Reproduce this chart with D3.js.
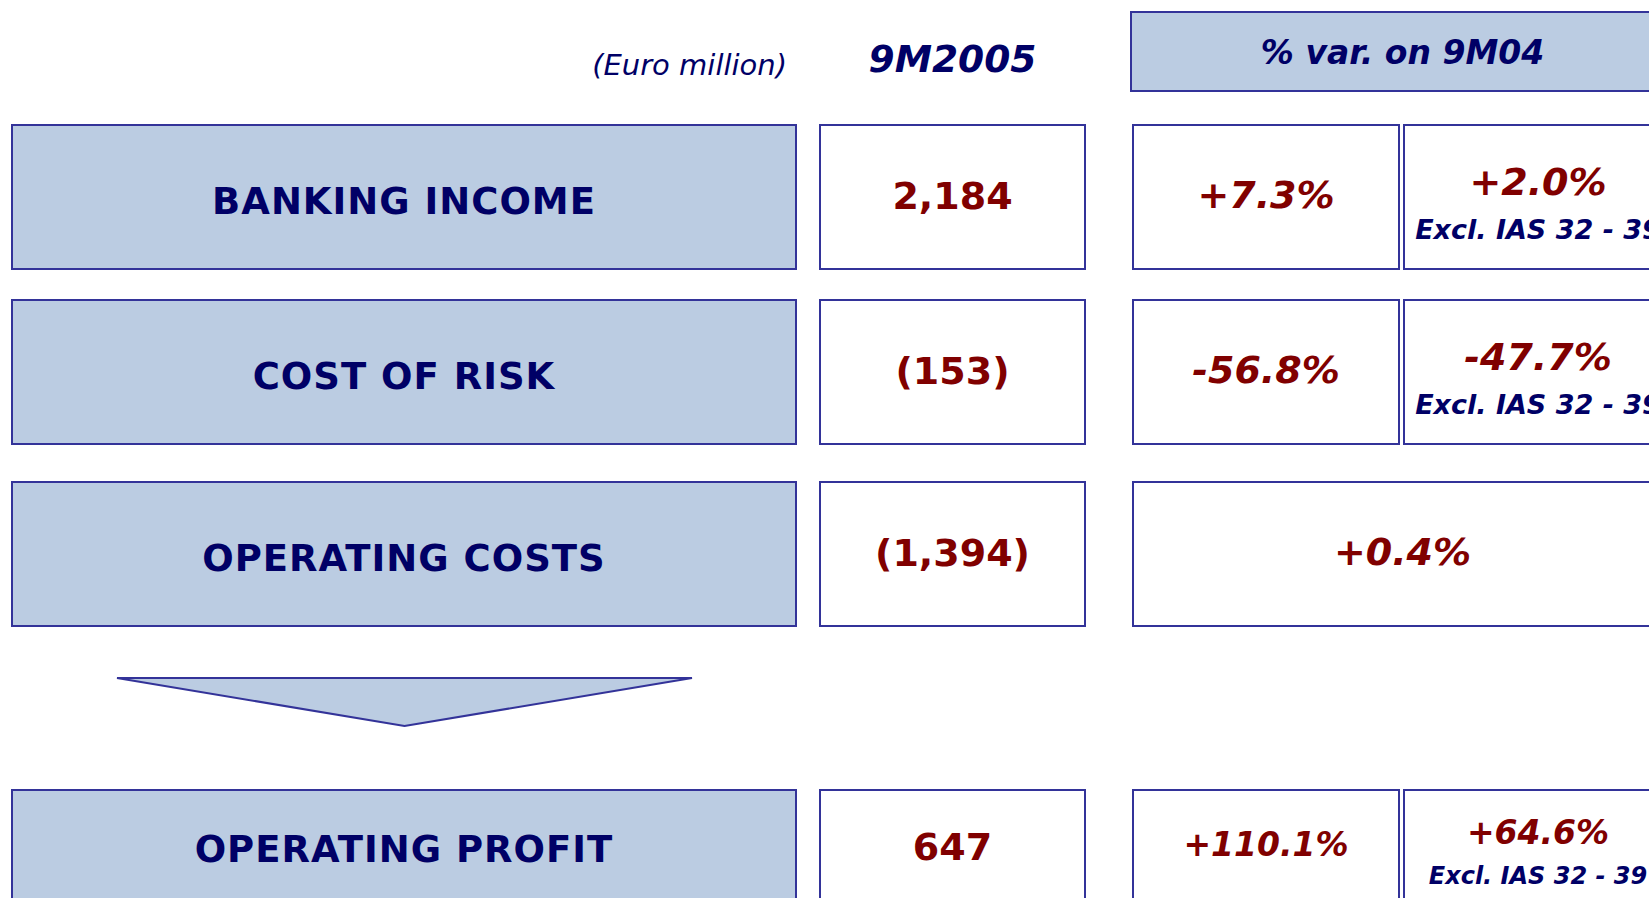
<!DOCTYPE html>
<html>
<head>
<meta charset="utf-8">
<script src="https://cdn.jsdelivr.net/npm/d3@7"></script>
<style>
body { margin: 0; background: #fff; overflow: hidden; }
text { font-family: "DejaVu Sans", Verdana, sans-serif; }
</style>
</head>
<body>
<div id="chart"></div>
<script>
// data
var items = ["BANKING INCOME", "COST OF RISK", "OPERATING COSTS", "OPERATING PROFIT"];
var values9M = [2184, -153, -1394, 647];
var varOn9M04 = [7.3, -56.8, 0.4, 110.1];
var varExclIAS = [2.0, -47.7, null, 64.6];
var unitLabel = "(Euro million)";
var periodLabel = "9M2005";
var varLabel = "% var. on 9M04";
var exclLabel = "Excl. IAS 32 - 39";

var width = 1649, height = 898;
var fill = "#bbcce2", stroke = "#333399", navy = "#000066", red = "#800000";

var loc = d3.formatLocale({decimal: ".", thousands: ",", grouping: [3], currency: ["", ""], minus: "-"});
var fmtNum = loc.format(",");
var fmtPct = function(v) { return loc.format("+.1f")(v) + "%"; };
var fmtVal = function(v) { return v < 0 ? "(" + fmtNum(-v) + ")" : fmtNum(v); };

// layout
var rowY = d3.scaleOrdinal().domain(items).range([125, 300, 482, 790]);
var rowH = function(i) { return i == items.length - 1 ? 120 : 144; };
var col = {
    label: [12, 796],
    value: [820, 1085],
    pct: [1133, 1399],
    excl: [1404, 1672]
};

var svg = d3.select("#chart")
    .append("svg")
    .attr("width", width)
    .attr("height", height);

var rows = items.map(function(d, i) {
    return {name: d, i: i, value: values9M[i], pct: varOn9M04[i], excl: varExclIAS[i]};
});

function box(g, x0, x1, h, f) {
    g.append("rect")
	.attr("x", x0).attr("y", 0)
	.attr("width", x1 - x0).attr("height", h)
	.attr("fill", f)
	.attr("stroke", stroke)
	.attr("stroke-width", 2);
}

// header
svg.append("text")
    .attr("x", 787).attr("y", 75)
    .attr("text-anchor", "end")
    .attr("font-size", 29)
    .attr("font-style", "italic")
    .attr("fill", navy)
    .text(unitLabel);

svg.append("text")
    .attr("x", (col.value[0] + col.value[1]) / 2).attr("y", 72)
    .attr("text-anchor", "middle")
    .attr("font-size", 37.5)
    .attr("font-weight", "bold")
    .attr("font-style", "italic")
    .attr("fill", navy)
    .text(periodLabel);

var hdr = svg.append("g").attr("transform", "translate(0,12)");
box(hdr, col.pct[0] - 2, col.excl[1] + 1, 79, fill);
hdr.append("text")
    .attr("x", (col.pct[0] + col.excl[1]) / 2).attr("y", 52)
    .attr("text-anchor", "middle")
    .attr("font-size", 33)
    .attr("font-weight", "bold")
    .attr("font-style", "italic")
    .attr("fill", navy)
    .text(varLabel);

// rows
var g = svg.selectAll("g.row")
    .data(rows)
    .enter()
    .append("g")
    .attr("class", "row")
    .attr("transform", function(d) { return "translate(0," + rowY(d.name) + ")"; });

g.each(function(d) {
    var r = d3.select(this);
    var h = rowH(d.i);
    var last = d.i == items.length - 1;

    box(r, col.label[0], col.label[1], h, fill);
    r.append("text")
	.attr("x", (col.label[0] + col.label[1]) / 2)
	.attr("y", h * (last ? 0.6 : 0.615))
	.attr("text-anchor", "middle")
	.attr("font-size", 37)
	.attr("font-weight", "bold")
	.attr("letter-spacing", 1)
	.attr("fill", navy)
	.text(d.name);

    box(r, col.value[0], col.value[1], h, "#fff");
    r.append("text")
	.attr("x", (col.value[0] + col.value[1]) / 2)
	.attr("y", h * 0.583)
	.attr("text-anchor", "middle")
	.attr("font-size", 38)
	.attr("font-weight", "bold")
	.attr("fill", red)
	.text(fmtVal(d.value));

    var pctSize = last ? 33 : 38;
    var exclSize = last ? 24 : 27;
    if (d.excl == null) {
	box(r, col.pct[0], col.excl[1], h, "#fff");
	r.append("text")
	    .attr("x", (col.pct[0] + col.excl[1]) / 2)
	    .attr("y", h * 0.576)
	    .attr("text-anchor", "middle")
	    .attr("font-size", pctSize)
	    .attr("font-weight", "bold")
	    .attr("font-style", "italic")
	    .attr("fill", red)
	    .text(fmtPct(d.pct));
	return;
    }
    box(r, col.pct[0], col.pct[1], h, "#fff");
    r.append("text")
	.attr("x", (col.pct[0] + col.pct[1]) / 2)
	.attr("y", h * (last ? 0.55 : 0.576))
	.attr("text-anchor", "middle")
	.attr("font-size", pctSize)
	.attr("font-weight", "bold")
	.attr("font-style", "italic")
	.attr("fill", red)
	.text(fmtPct(d.pct));

    box(r, col.excl[0], col.excl[1], h, "#fff");
    var cx = (col.excl[0] + col.excl[1]) / 2;
    r.append("text")
	.attr("x", cx)
	.attr("y", h * (last ? 0.45 : 0.486))
	.attr("text-anchor", "middle")
	.attr("font-size", pctSize)
	.attr("font-weight", "bold")
	.attr("font-style", "italic")
	.attr("fill", red)
	.text(fmtPct(d.excl));
    r.append("text")
	.attr("x", cx)
	.attr("y", h * (last ? 0.78 : 0.79))
	.attr("text-anchor", "middle")
	.attr("font-size", exclSize)
	.attr("font-weight", "bold")
	.attr("font-style", "italic")
	.attr("fill", navy)
	.text(exclLabel);
});

// arrow between costs and profit
var arrowTop = rowY(items[2]) + rowH(2) + 52;
var arrowBottom = rowY(items[3]) - 64;
var ax = d3.scaleLinear().domain([0, 1]).range([117, 692]);
svg.append("path")
    .attr("d", d3.line()([[ax(0), arrowTop], [ax(1), arrowTop], [ax(0.5), arrowBottom]]) + "Z")
    .attr("fill", fill)
    .attr("stroke", stroke)
    .attr("stroke-width", 2);
</script>
</body>
</html>
